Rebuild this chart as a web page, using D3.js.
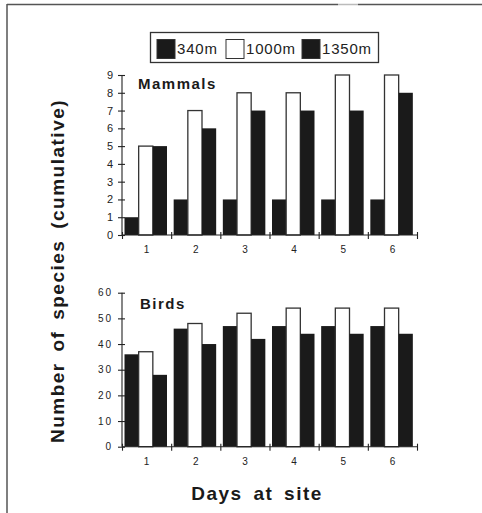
<!DOCTYPE html>
<html>
<head>
<meta charset="utf-8">
<script src="https://cdn.jsdelivr.net/npm/d3@7"></script>
<style>
  body { margin: 0; background: #fff; }
  svg { display: block; font-family: "Liberation Sans", Arial, sans-serif; }
  .axis path, .axis line { stroke: #222; stroke-width: 1.1; }
  .axis text { fill: #222; }
</style>
</head>
<body>
<div id="chart"></div>
<script>
// data
var days = ['1', '2', '3', '4', '5', '6'];
var sites = ['340m', '1000m', '1350m'];
var mammals340 = [1, 2, 2, 2, 2, 2];
var mammals1000 = [5, 7, 8, 8, 9, 9];
var mammals1350 = [5, 6, 7, 7, 7, 8];
var birds340 = [36, 46, 47, 47, 47, 47];
var birds1000 = [37, 48, 52, 54, 54, 54];
var birds1350 = [28, 40, 42, 44, 44, 44];
var mammalTicks = [0, 1, 2, 3, 4, 5, 6, 7, 8, 9];
var birdTicks = [0, 10, 20, 30, 40, 50, 60];

var siteFill = { '340m': '#1a1a1a', '1000m': '#fff', '1350m': '#1a1a1a' };

var svg = d3.select('#chart').append('svg')
	.attr('width', 482).attr('height', 513);

// scanned frame edges
svg.append('line').attr('x1', 7).attr('x2', 338).attr('y1', 4.5).attr('y2', 4.5)
	.attr('stroke', '#555').attr('stroke-width', 1.5);
svg.append('line').attr('x1', 338).attr('x2', 358).attr('y1', 4.5).attr('y2', 4.5)
	.attr('stroke', '#bbb').attr('stroke-width', 1.5);
svg.append('line').attr('x1', 358).attr('x2', 482).attr('y1', 4.5).attr('y2', 4.5)
	.attr('stroke', '#555').attr('stroke-width', 1.5);
svg.append('line').attr('x1', 7).attr('x2', 7).attr('y1', 4).attr('y2', 513)
	.attr('stroke', '#555').attr('stroke-width', 1.5);

// legend
var legend = svg.append('g');
legend.append('rect').attr('x', 150.5).attr('y', 32.5).attr('width', 228).attr('height', 30)
	.attr('fill', '#fff').attr('stroke', '#333').attr('stroke-width', 1.3);
var legX = [157, 226, 302];
sites.forEach(function (s, i) {
	legend.append('rect').attr('x', legX[i]).attr('y', 39.5).attr('width', 18).attr('height', 19)
		.attr('fill', siteFill[s]).attr('stroke', '#333').attr('stroke-width', 1);
	legend.append('text').attr('x', legX[i] + 20).attr('y', 54)
		.attr('font-size', 15).attr('letter-spacing', 0.8).attr('fill', '#222')
		.text(s);
});

var xLeft = 122, xRight = 417;
var x = d3.scaleBand().domain(days).range([xLeft, xRight]);
var xEdge = d3.scaleLinear().domain([0, days.length]).range([xLeft, xRight]);
var xSite = d3.scaleBand().domain(sites).range([2.5, 45]);

function panel(opts) {
	var y = d3.scaleLinear().domain([0, opts.max]).range([opts.y0, opts.y1]);
	var g = svg.append('g');
	var rows = [];
	days.forEach(function (d, i) {
		sites.forEach(function (s, j) {
			rows.push({ day: d, site: s, value: opts.series[j][i] });
		});
	});
	g.selectAll('rect.bar').data(rows).enter().append('rect')
		.attr('class', 'bar')
		.attr('x', function (d) { return x(d.day) + xSite(d.site); })
		.attr('width', xSite.bandwidth())
		.attr('y', function (d) { return y(d.value); })
		.attr('height', function (d) { return y(0) - y(d.value); })
		.attr('fill', function (d) { return siteFill[d.site]; })
		.attr('stroke', function (d) { return d.site === '1000m' ? '#333' : 'none'; })
		.attr('stroke-width', 1.3);

	// y axis with crossing ticks
	var ya = g.append('g').attr('class', 'axis')
		.attr('transform', 'translate(' + xLeft + ',0)')
		.call(d3.axisLeft(y).tickValues(opts.ticks).tickSize(4).tickPadding(5).tickFormat(d3.format('d')));
	ya.selectAll('.tick line').attr('x2', -4).attr('x1', 3);
	ya.select('.domain').attr('d', 'M0,' + y(0) + 'V' + y(opts.max));
	ya.selectAll('text').attr('font-size', opts.tickFont).attr('letter-spacing', opts.tickSpacing);

	// x axis: ticks at group boundaries, labels centred
	var xa = g.append('g').attr('class', 'axis')
		.attr('transform', 'translate(0,' + y(0) + ')')
		.call(d3.axisBottom(xEdge).tickValues(d3.range(0, days.length + 1)).tickSize(4).tickFormat(''));
	xa.selectAll('.tick line').attr('y1', -3).attr('y2', 4);
	xa.select('.domain').attr('d', 'M' + xLeft + ',0H' + xRight);
	var xl = g.append('g').attr('class', 'axis')
		.attr('transform', 'translate(0,' + (y(0) + 11) + ')')
		.call(d3.axisBottom(x).tickSize(0).tickPadding(0));
	xl.select('.domain').remove();
	xl.selectAll('text').attr('font-size', 10);

	g.append('text').attr('x', opts.titleX).attr('y', opts.titleY)
		.attr('font-size', 15).attr('font-weight', 'bold').attr('letter-spacing', 1.5)
		.attr('fill', '#1a1a1a').text(opts.title);
}

panel({
	series: [mammals340, mammals1000, mammals1350], max: 9, ticks: mammalTicks,
	y0: 235, y1: 75, title: 'Mammals', titleX: 138, titleY: 89, tickFont: 11, tickSpacing: 0
});
panel({
	series: [birds340, birds1000, birds1350], max: 60, ticks: birdTicks,
	y0: 446.7, y1: 292.7, title: 'Birds', titleX: 140, titleY: 309, tickFont: 10, tickSpacing: 2
});

// axis titles
svg.append('text')
	.attr('transform', 'translate(64,271) rotate(-90)')
	.attr('text-anchor', 'middle')
	.attr('font-size', 19).attr('font-weight', 'bold').attr('letter-spacing', 1.5)
	.attr('word-spacing', 4).attr('fill', '#1a1a1a')
	.text('Number of species (cumulative)');
svg.append('text')
	.attr('x', 257).attr('y', 500)
	.attr('text-anchor', 'middle')
	.attr('font-size', 19).attr('font-weight', 'bold').attr('letter-spacing', 1.5)
	.attr('word-spacing', 4).attr('fill', '#1a1a1a')
	.text('Days at site');
</script>
</body>
</html>
